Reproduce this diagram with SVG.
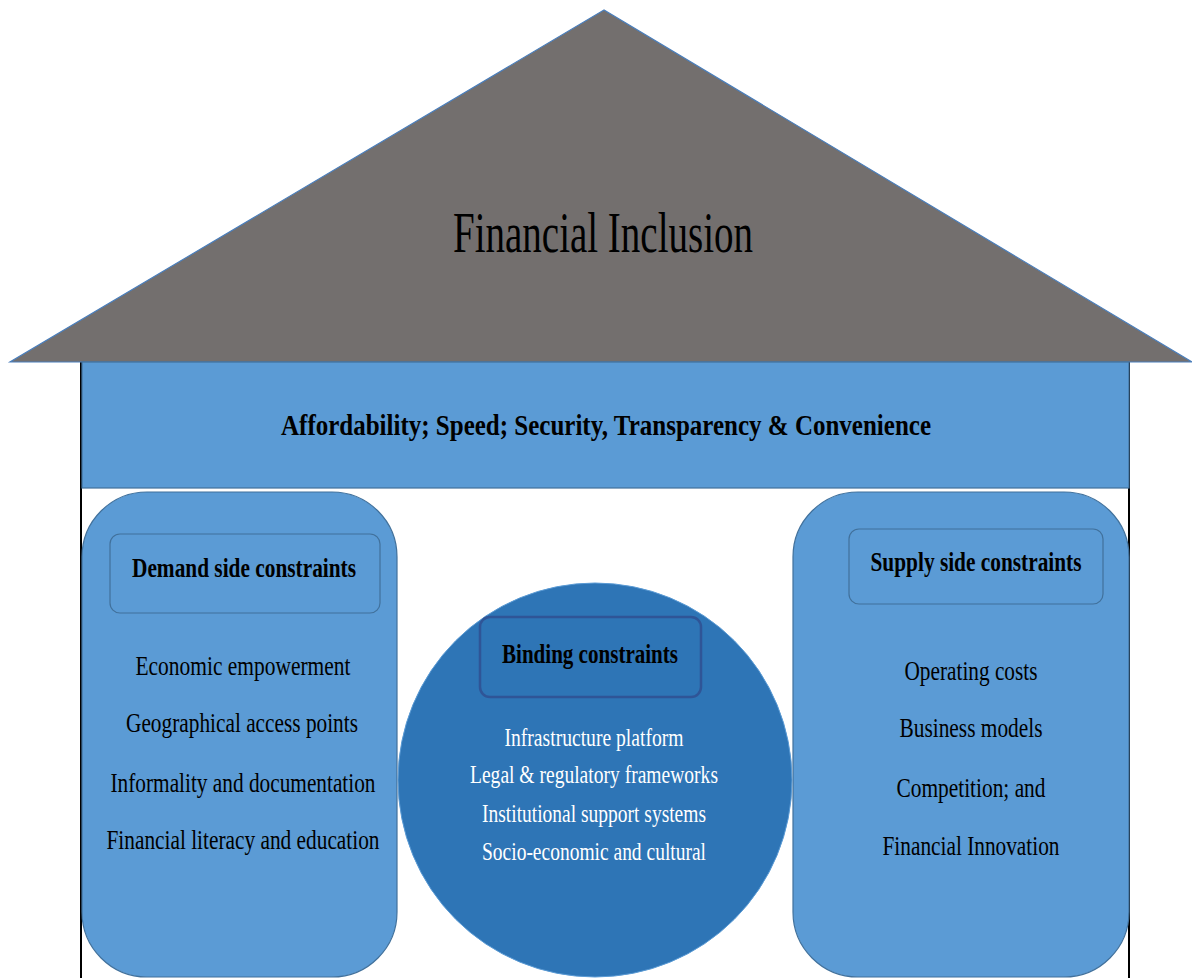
<svg xmlns="http://www.w3.org/2000/svg" width="1192" height="978" viewBox="0 0 1192 978">
<style>
.t{font-family:"Liberation Serif","Times New Roman",serif;text-anchor:middle;fill:#000}
.b{font-weight:bold}
.w{fill:#fff}
.blue{fill:#5B9BD5;stroke:#41719C;stroke-width:1.2}
.hdr{fill:#5B9BD5;stroke:#41719C;stroke-width:1.2}
.wall{stroke:#000;stroke-width:2;fill:none}
</style>
<rect width="1192" height="978" fill="#fff"/>
<g id="walls">
<line class="wall" x1="81" y1="361" x2="81" y2="978"/>
<line class="wall" x1="1129" y1="361" x2="1129" y2="978"/>
</g>
<g id="roof">
<polygon points="604,10 10,362 1192,362" fill="#736F6E" stroke="#4A7EBB" stroke-width="1.2"/>
<text class="t" x="603" y="252" font-size="56" textLength="300" lengthAdjust="spacingAndGlyphs">Financial Inclusion</text>
</g>
<g id="band">
<rect class="blue" x="82" y="362" width="1047" height="126"/>
<text class="t b" x="606" y="435" font-size="30" textLength="650" lengthAdjust="spacingAndGlyphs">Affordability; Speed; Security, Transparency &amp; Convenience</text>
</g>
<g id="demand">
<rect class="blue" x="82" y="492" width="315" height="485" rx="65"/>
<rect class="hdr" x="110" y="534" width="270" height="79" rx="10"/>
<text class="t b" x="244" y="577" font-size="28" textLength="224" lengthAdjust="spacingAndGlyphs">Demand side constraints</text>
<text class="t" x="243" y="675" font-size="28" textLength="215" lengthAdjust="spacingAndGlyphs">Economic empowerment</text>
<text class="t" x="242" y="732" font-size="28" textLength="232" lengthAdjust="spacingAndGlyphs">Geographical access points</text>
<text class="t" x="243" y="792" font-size="28" textLength="265" lengthAdjust="spacingAndGlyphs">Informality and documentation</text>
<text class="t" x="243" y="849" font-size="28" textLength="273" lengthAdjust="spacingAndGlyphs">Financial literacy and education</text>
</g>
<g id="supply">
<rect class="blue" x="793" y="492" width="336" height="485" rx="65"/>
<rect class="hdr" x="849" y="529" width="254" height="75" rx="10"/>
<text class="t b" x="976" y="571" font-size="28" textLength="211" lengthAdjust="spacingAndGlyphs">Supply side constraints</text>
<text class="t" x="971" y="680" font-size="28" textLength="133" lengthAdjust="spacingAndGlyphs">Operating costs</text>
<text class="t" x="971" y="737" font-size="28" textLength="143" lengthAdjust="spacingAndGlyphs">Business models</text>
<text class="t" x="971" y="797" font-size="28" textLength="149" lengthAdjust="spacingAndGlyphs">Competition; and</text>
<text class="t" x="971" y="855" font-size="28" textLength="177" lengthAdjust="spacingAndGlyphs">Financial Innovation</text>
</g>
<g id="binding">
<circle cx="595" cy="780" r="197" fill="#2E75B6" stroke="#5B9BD5" stroke-width="1"/>
<rect x="480" y="617" width="221" height="80" rx="10" fill="#2E75B6" stroke="#2F5597" stroke-width="2.5"/>
<text class="t b" x="590" y="663" font-size="27" textLength="176" lengthAdjust="spacingAndGlyphs">Binding constraints</text>
<text class="t w" x="594" y="746" font-size="25" textLength="179" lengthAdjust="spacingAndGlyphs">Infrastructure platform</text>
<text class="t w" x="594" y="783" font-size="25" textLength="248" lengthAdjust="spacingAndGlyphs">Legal &amp; regulatory frameworks</text>
<text class="t w" x="594" y="822" font-size="25" textLength="224" lengthAdjust="spacingAndGlyphs">Institutional support systems</text>
<text class="t w" x="594" y="860" font-size="25" textLength="224" lengthAdjust="spacingAndGlyphs">Socio-economic and cultural</text>
</g>
<g id="connectors"/>
</svg>
